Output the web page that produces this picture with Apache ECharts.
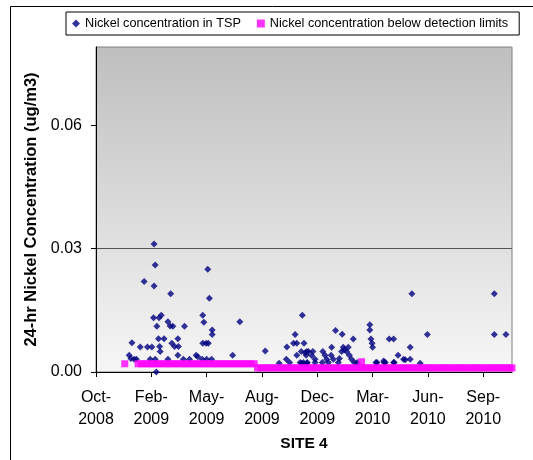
<!DOCTYPE html>
<html><head><meta charset="utf-8">
<script src="https://cdn.jsdelivr.net/npm/echarts@6/dist/echarts.min.js"></script>
<style>html,body{margin:0;padding:0;background:#fff}#c{width:533px;height:460px}</style>
</head><body><div id="c"></div>
<script>
// x values: days from the first axis tick (Oct-2008); ticks every 100 days
const tickLabels = ["Oct-2008","Feb-2009","May-2009","Aug-2009","Dec-2009","Mar-2010","Jun-2010","Sep-2010"];
const tickDays = [0,100,200,300,400,500,600,700];
const yTicks = [0, 0.03, 0.06];

const tspDays = [105,107,87,105,135,104,118,114,110,130,134,139,160,65,80,93,101,113,123,115,116,137,142,149,148,
  60,63,69,73,98,107,130,148,158,169,181,184,192,193,195,193,199,203,109,202,205,210,210,200,209,
  260,247,306,331,345,360,357,363,376,373,363,371,378,381,380,344,350,372,381,384,392,390,
  396,396,410,414,417,426,425,429,433,445,440,444,449,453,447,465,456,458,462,467,
  495,495,497,499,500,530,538,546,556,568,520,508,523,538,571,568,559,599,586,720,720,741,
  369,375,382,409,420,438,472,506,521,539];
const tspConc = [0.0311,0.0260,0.0220,0.0209,0.0190,0.0132,0.0138,0.0132,0.0111,0.0122,0.0112,0.0111,0.0111,0.0071,0.0061,0.0061,0.0061,0.0081,0.0081,0.0062,0.0050,0.0070,0.0062,0.0062,0.0081,
  0.0041,0.0033,0.0031,0.0031,0.0031,0.0031,0.0031,0.0041,0.0031,0.0031,0.0041,0.0037,0.0031,0.0138,0.0121,0.0070,0.0070,0.0070,0.0000,0.0250,0.0179,0.0102,0.0091,0.0031,0.0031,
  0.0122,0.0041,0.0051,0.0021,0.0061,0.0091,0.0070,0.0070,0.0070,0.0138,0.0041,0.0050,0.0047,0.0050,0.0041,0.0031,0.0023,0.0021,0.0021,0.0050,0.0050,0.0040,
  0.0031,0.0023,0.0050,0.0041,0.0031,0.0060,0.0041,0.0031,0.0101,0.0092,0.0033,0.0050,0.0054,0.0050,0.0060,0.0080,0.0060,0.0041,0.0031,0.0023,
  0.0115,0.0102,0.0080,0.0070,0.0060,0.0080,0.0080,0.0041,0.0031,0.0031,0.0027,0.0023,0.0023,0.0023,0.0190,0.0060,0.0030,0.0091,0.0021,0.0190,0.0091,0.0091,
  0.0023,0.0023,0.0023,0.0023,0.0023,0.0023,0.0023,0.0023,0.0023,0.0023];

// below detection limit samples
const bdlDaysA = [52,76,82,88,94,100,106,112,118,124,130,136,142,148,154,160,166,172,178,184,190,196,202,208,214,220,226,232,238,244,250,256,262,268,274,280,286];
const bdlLimitA = 0.002;
const bdlDaysB = [292,298,304,310,316,322,328,334,340,346,352,358,364,370,376,382,388,394,400,406,412,418,424,430,436,442,448,454,460,466,472,478,484,490,496,502,508,514,520,526,532,538,544,550,556,562,568,574,580,586,592,598,604,610,616,622,628,634,640,646,652,658,664,670,676,682,688,694,700,706,712,718,724,730,736,742,748,752];
const bdlLimitB = 0.001;
const bdlExtraDays = [480];
const bdlExtraConc = [0.0025];

const tspData = tspDays.map((d,i)=>[d, tspConc[i]]);
const bdlData = bdlDaysA.map(d=>[d,bdlLimitA])
  .concat(bdlDaysB.map(d=>[d,bdlLimitB]))
  .concat(bdlExtraDays.map((d,i)=>[d,bdlExtraConc[i]]));

const font = 'Liberation Sans, Arial, sans-serif';
const chart = echarts.init(document.getElementById('c'), null, {renderer:'canvas'});
chart.setOption({
  animation:false,
  textStyle:{fontFamily:font},
  graphic:[{type:'rect', shape:{x:10.5,y:6.5,width:700,height:700}, style:{fill:'none',stroke:'#000',lineWidth:1}, z:-10}],
  legend:{
    left:66, top:12, padding:[5,11,5,6], borderColor:'#000', borderWidth:1,
    itemWidth:8, itemHeight:8, itemGap:16,
    textStyle:{fontFamily:font, fontSize:12.7, color:'#000'},
    data:[{name:'Nickel concentration in TSP', icon:'diamond'},{name:'Nickel concentration below detection limits', icon:'rect'}]
  },
  grid:{left:96, right:21, top:47, bottom:88, show:true, borderColor:'#808080', borderWidth:1,
    backgroundColor:new echarts.graphic.LinearGradient(0,0,0,1,[{offset:0,color:'#bfbfbf'},{offset:1,color:'#f6f6f6'}])},
  xAxis:{
    type:'value', min:0, max:752, interval:100,
    name:'SITE 4', nameLocation:'middle', nameGap:63,
    nameTextStyle:{fontFamily:font, fontSize:15.5, fontWeight:'bold', color:'#000'},
    axisLine:{show:true, lineStyle:{color:'#000', width:1}},
    axisTick:{show:true, length:5, customValues:tickDays, lineStyle:{color:'#000'}},
    axisLabel:{customValues:tickDays, margin:15, fontSize:16, lineHeight:22, color:'#000', fontFamily:font,
      formatter:v=>{const i=tickDays.indexOf(Math.round(v)); if(i<0) return ''; const p=tickLabels[i].split('-'); return p[0]+'-\n'+p[1];}},
    splitLine:{show:false}
  },
  yAxis:{
    type:'value', min:0, max:0.079, interval:0.03,
    name:'24-hr Nickel Concentration (ug/m3)', nameLocation:'middle', nameGap:55,
    nameTextStyle:{fontFamily:font, fontSize:16.5, fontWeight:'bold', color:'#000'},
    axisLine:{show:true, lineStyle:{color:'#000', width:1}},
    axisTick:{show:true, length:5, customValues:yTicks, lineStyle:{color:'#000'}},
    axisLabel:{customValues:yTicks, margin:14, fontSize:16, color:'#000', fontFamily:font, formatter:v=>v.toFixed(2)},
    splitLine:{show:true, showMinLine:false, showMaxLine:false, lineStyle:{color:'#555', width:1}}
  },
  series:[
    {name:'Nickel concentration in TSP', type:'scatter', symbol:'diamond', symbolSize:7,
      itemStyle:{color:'#000080'}, data:tspData},
    {name:'Nickel concentration below detection limits', type:'scatter', symbol:'rect', symbolSize:7,
      itemStyle:{color:'#ff00ff'}, data:bdlData}
  ]
});
</script></body></html>
